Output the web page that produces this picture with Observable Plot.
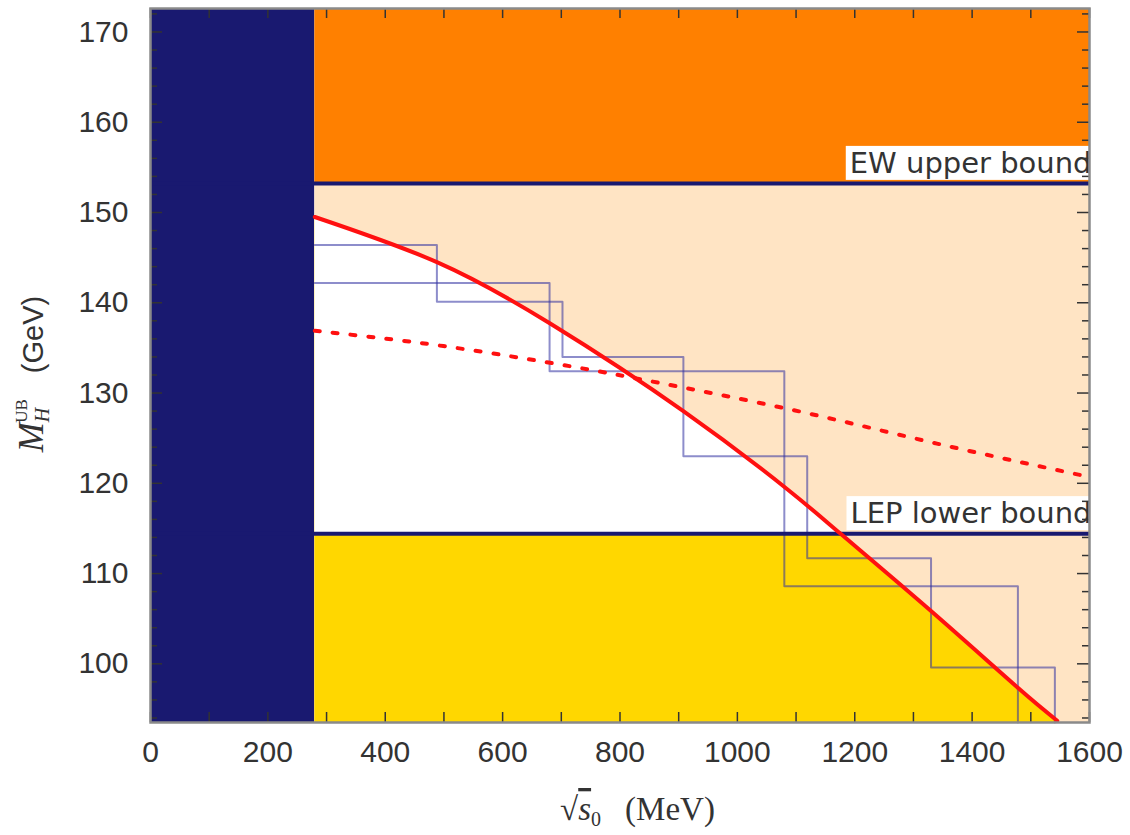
<!DOCTYPE html>
<html><head><meta charset="utf-8">
<script src="https://cdn.jsdelivr.net/npm/d3@7"></script>
<script src="https://cdn.jsdelivr.net/npm/@observablehq/plot@0.6"></script>
<style>body{margin:0;background:#fff}</style>
</head><body><div id="chart"></div>
<script>
// ---- data ----
const pionThreshold = 280;          // MeV, left navy band ends here
const xDomain = [0, 1600];
const yDomain = [93.5, 172.6];
const ewUpperBound = 153.2;         // GeV
const lepLowerBound = 114.4;        // GeV
const lepCrossing = 1176;           // MeV where solid curve meets LEP bound

const solidX = [280, 488, 681, 908, 1084, 1176, 1329, 1477, 1545];
const solidY = [149.5, 144.5, 137.7, 128.0, 119.4, 114.4, 105.9, 97.4, 93.7];

const dashedX = [280, 499, 721, 869, 1096, 1340, 1600];
const dashedY = [136.9, 135.2, 132.9, 131.1, 128.1, 124.4, 120.7];

const stepUpperX = [280, 488, 702, 908, 1119, 1330, 1541];
const stepUpperY = [146.4, 140.1, 134.0, 123.0, 111.7, 99.6];
const stepLowerX = [280, 680, 1080, 1478];
const stepLowerY = [142.2, 132.4, 108.6];

const boundLabels = ["EW upper bound", "LEP lower bound"];
const boundValues = [ewUpperBound, lepLowerBound];

const xTickLabels = [0, 200, 400, 600, 800, 1000, 1200, 1400, 1600];
const xTickMarks = [0, 100, 200, 300, 400, 500, 600, 700, 800, 900, 1000, 1100, 1200, 1300, 1400, 1500, 1600];
const yTickLabels = [100, 110, 120, 130, 140, 150, 160, 170];
const yMinorTicks = [94, 96, 98, 102, 104, 106, 108, 112, 114, 116, 118, 122, 124, 126, 128, 132, 134, 136, 138, 142, 144, 146, 148, 152, 154, 156, 158, 162, 164, 166, 168, 172];

// ---- layout ----
const W = 1130, H = 835, mL = 150, mR = 41, mT = 8, mB = 113;
const fw = W - mL - mR, fh = H - mT - mB;
const navy = "#191970", orange = "#ff8000", peach = "#ffe4c4", gold = "#ffd700";
const tickColor = "#333";

const solid = solidX.map((x, i) => ({x, y: solidY[i]}));
const dashed = dashedX.map((x, i) => ({x, y: dashedY[i]}));
const stepUpper = stepUpperX.map((x, i) => ({x, y: i < stepUpperY.length ? stepUpperY[i] : yDomain[0]}));
const stepLower = stepLowerX.map((x, i) => ({x, y: i < stepLowerY.length ? stepLowerY[i] : yDomain[0]}));
const bounds = boundLabels.map((label, i) => ({label, y: boundValues[i]}));
const one = [null];

const plot = Plot.plot({
  width: W, height: H,
  marginLeft: mL, marginRight: mR, marginTop: mT, marginBottom: mB,
  style: {fontFamily: "'Liberation Sans', Arial, sans-serif", fontSize: "30px", color: "#333", background: "white"},
  x: {domain: xDomain, label: null},
  y: {domain: yDomain, label: null},
  marks: [
    Plot.rect(one, {x1: xDomain[0], x2: pionThreshold, y1: yDomain[0], y2: yDomain[1], fill: navy}),
    Plot.rect(one, {x1: pionThreshold, x2: xDomain[1], y1: ewUpperBound, y2: yDomain[1], fill: orange}),
    Plot.rect(one, {x1: pionThreshold, x2: xDomain[1], y1: yDomain[0], y2: ewUpperBound, fill: peach}),
    Plot.areaY(solid, {x: "x", y1: yDomain[0], y2: "y", fill: gold, curve: "natural", clip: true}),
    Plot.areaY(solid.filter(d => d.x <= lepCrossing), {x: "x", y1: lepLowerBound, y2: "y", fill: "white", curve: "natural"}),
    Plot.line(stepUpper, {x: "x", y: "y", curve: "step-after", stroke: "#3030a0", strokeOpacity: 0.55, strokeWidth: 2}),
    Plot.line(stepLower, {x: "x", y: "y", curve: "step-after", stroke: "#3030a0", strokeOpacity: 0.55, strokeWidth: 2}),
    Plot.ruleY(boundValues, {y: d => d, stroke: navy, strokeWidth: 4}),
    Plot.line(dashed, {x: "x", y: "y", curve: "natural", stroke: "#ff1010", strokeWidth: 4, strokeDasharray: "5,13", clip: true}),
    Plot.line(solid, {x: "x", y: "y", curve: "natural", stroke: "#ff1010", strokeWidth: 4, clip: true}),
    Plot.text(bounds, {x: xDomain[1], y: "y", text: "label", textAnchor: "end", lineAnchor: "middle", dx: 2, dy: -20,
      fontFamily: "'DejaVu Sans', sans-serif", fontSize: 29, fill: "#333", clip: true, className: "bound-label"}),
    // inward ticks
    Plot.ruleX(xTickMarks, {x: d => d, insetTop: fh - 10, stroke: tickColor, strokeWidth: 1.5}),
    Plot.ruleX(xTickMarks, {x: d => d, insetBottom: fh - 10, stroke: tickColor, strokeWidth: 1.5}),
    Plot.ruleY(yTickLabels, {y: d => d, insetRight: fw - 12, stroke: tickColor, strokeWidth: 1.5}),
    Plot.ruleY(yTickLabels, {y: d => d, insetLeft: fw - 12, stroke: tickColor, strokeWidth: 1.5}),
    Plot.ruleY(yMinorTicks, {y: d => d, insetRight: fw - 7, stroke: tickColor, strokeWidth: 1.5}),
    Plot.ruleY(yMinorTicks, {y: d => d, insetLeft: fw - 7, stroke: tickColor, strokeWidth: 1.5}),
    Plot.frame({stroke: "#8a8a8a", strokeWidth: 2.5}),
    Plot.axisX(xTickLabels, {anchor: "bottom", tickSize: 0, tickPadding: 18, tickFormat: d => String(d), label: null}),
    Plot.axisY(yTickLabels, {anchor: "left", tickSize: 0, tickPadding: 22, tickFormat: d => String(d), label: null})
  ]
});

document.getElementById("chart").append(plot);

// white boxes behind the bound labels
d3.select(plot).selectAll(".bound-label text").each(function() {
  const b = this.getBBox();
  const r = document.createElementNS("http://www.w3.org/2000/svg", "rect");
  r.setAttribute("x", b.x - 4);
  r.setAttribute("y", b.y);
  r.setAttribute("width", b.width + 8);
  r.setAttribute("height", b.height);
  r.setAttribute("fill", "white");
  const t = this.getAttribute("transform");
  if (t) r.setAttribute("transform", t);
  this.parentNode.insertBefore(r, this);
});

// axis titles
const s = d3.select(plot);
const xl = s.append("text")
  .attr("x", mL + fw / 2 + 18).attr("y", 820)
  .attr("text-anchor", "middle")
  .attr("font-family", "'Liberation Serif', 'DejaVu Serif', serif")
  .attr("font-size", 33).attr("fill", "#333");
xl.append("tspan").text("√");
xl.append("tspan").attr("font-style", "italic").style("text-decoration", "overline").text("s");
xl.append("tspan").attr("font-size", 20).attr("dy", 6).text("0");
xl.append("tspan").attr("dy", -6).attr("dx", 24).text("(MeV)");

const yl = s.append("text")
  .attr("transform", `translate(43,${mT + fh / 2 + 9}) rotate(-90)`)
  .attr("text-anchor", "middle").attr("fill", "#333");
yl.append("tspan").attr("font-family", "'Liberation Serif', serif").attr("font-style", "italic").attr("font-size", 36).text("M");
yl.append("tspan").attr("font-family", "'Liberation Serif', serif").attr("font-style", "italic").attr("font-size", 20).attr("dy", 6).text("H");
yl.append("tspan").attr("font-family", "'Liberation Serif', serif").attr("font-size", 17).attr("dx", -15).attr("dy", -22).text("UB");
yl.append("tspan").attr("font-family", "'Liberation Sans', Arial, sans-serif").attr("font-size", 29).attr("dy", 16).attr("dx", 26).text("(GeV)");
</script>
</body></html>
